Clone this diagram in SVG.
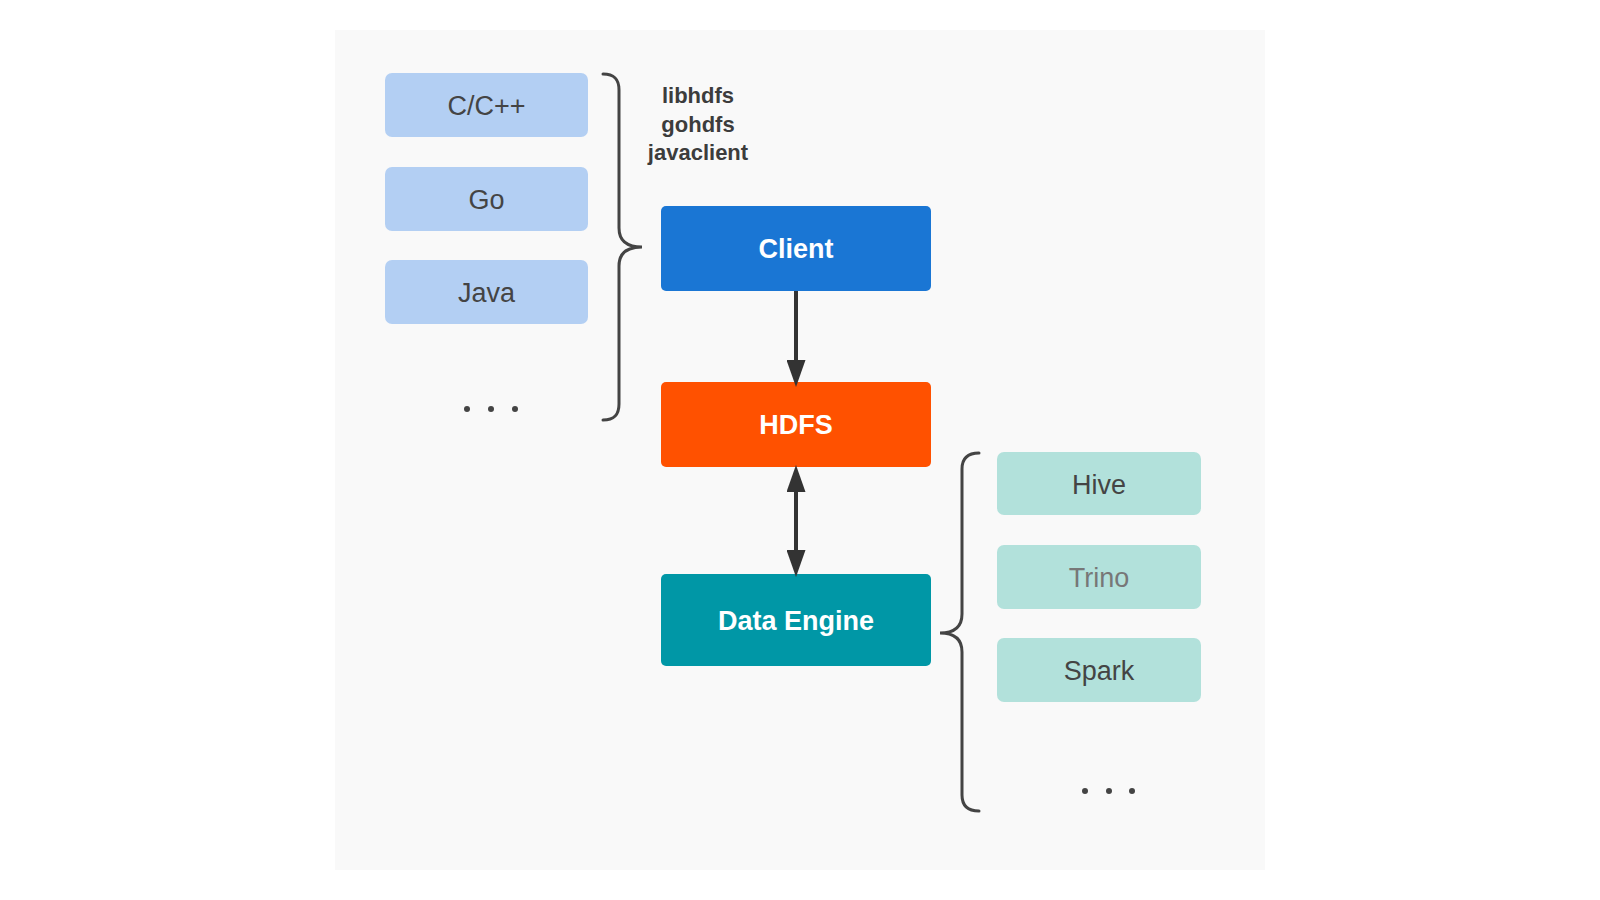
<svg xmlns="http://www.w3.org/2000/svg" width="1600" height="900" viewBox="0 0 1600 900">
<style>
.lang{fill:#b3cff3}
.eng{fill:#b2e1db}
.lt{font-family:"Liberation Sans",Arial,sans-serif;font-size:27px;fill:#444;text-anchor:middle}
.bt{font-family:"Liberation Sans",Arial,sans-serif;font-size:27px;font-weight:bold;fill:#fff;text-anchor:middle}
.lib{font-family:"Liberation Sans",Arial,sans-serif;font-size:22px;font-weight:bold;fill:#3c3c3c;text-anchor:middle}
.brace{fill:none;stroke:#444;stroke-width:3;stroke-linecap:round}
.conn{stroke:#333;stroke-width:4;fill:none}
.dot{fill:#444}
</style>
<defs>
<marker id="ah" viewBox="0 0 27 19" refX="10" refY="9.5" markerWidth="27" markerHeight="19" markerUnits="userSpaceOnUse" orient="auto-start-reverse">
<path d="M0,0 L27,9.5 L0,19 z" fill="#333"/>
</marker>
</defs>
<rect x="0" y="0" width="1600" height="900" fill="#ffffff"/>
<rect x="335" y="30" width="930" height="840" fill="#f9f9f9"/>

<g id="cpp"><rect class="lang" x="385" y="73" width="203" height="64" rx="7"/><text class="lt" x="486.5" y="115">C/C++</text></g>
<g id="go"><rect class="lang" x="385" y="167" width="203" height="64" rx="7"/><text class="lt" x="486.5" y="209">Go</text></g>
<g id="java"><rect class="lang" x="385" y="260" width="203" height="64" rx="7"/><text class="lt" x="486.5" y="302">Java</text></g>
<g id="lang-more"><circle class="dot" cx="467" cy="409" r="3"/><circle class="dot" cx="491" cy="409" r="3"/><circle class="dot" cx="515" cy="409" r="3"/></g>
<g id="left-brace"><path class="brace" d="M603,74 C615,74 619,80 619,90 L619,228 C619,240 626,247 642,247 C626,247 619,254 619,266 L619,404 C619,414 615,420 603,420"/></g>
<g id="libs"><text class="lib" x="698" y="103">libhdfs</text><text class="lib" x="698" y="132">gohdfs</text><text class="lib" x="698" y="160">javaclient</text></g>

<g id="client"><rect x="661" y="206" width="270" height="85" rx="5" fill="#1a76d4"/><text class="bt" x="796" y="258">Client</text></g>
<g id="hdfs"><rect x="661" y="382" width="270" height="85" rx="5" fill="#ff5100"/><text class="bt" x="796" y="434">HDFS</text></g>
<g id="engine"><rect x="661" y="574" width="270" height="92" rx="5" fill="#0097a6"/><text class="bt" x="796" y="630">Data Engine</text></g>

<g id="hive"><rect class="eng" x="997" y="452" width="204" height="63" rx="7"/><text class="lt" x="1099" y="494">Hive</text></g>
<g id="trino"><rect class="eng" x="997" y="545" width="204" height="64" rx="7"/><text class="lt" x="1099" y="587" style="fill:#777">Trino</text></g>
<g id="spark"><rect class="eng" x="997" y="638" width="204" height="64" rx="7"/><text class="lt" x="1099" y="680">Spark</text></g>
<g id="engine-more"><circle class="dot" cx="1085" cy="791" r="3"/><circle class="dot" cx="1109" cy="791" r="3"/><circle class="dot" cx="1132" cy="791" r="3"/></g>
<g id="right-brace"><path class="brace" d="M979,453 C967,453 962,459 962,469 L962,614 C962,626 955,633 940,633 C955,633 962,640 962,652 L962,795 C962,805 967,811 979,811"/></g>

<g id="connectors">
<line class="conn" x1="796" y1="291" x2="796" y2="370" marker-end="url(#ah)"/>
<line class="conn" x1="796" y1="482" x2="796" y2="560" marker-start="url(#ah)" marker-end="url(#ah)"/>
</g>
</svg>
